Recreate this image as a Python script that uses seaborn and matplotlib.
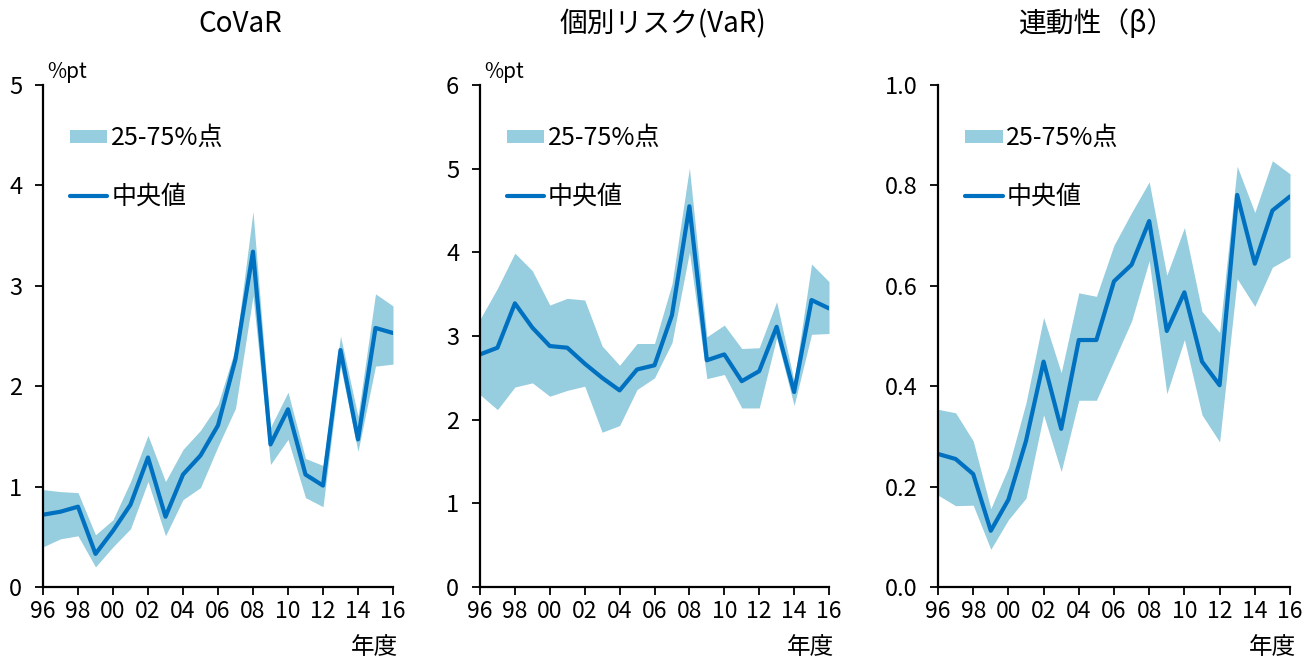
import numpy as np
import pandas as pd
import matplotlib
matplotlib.use("Agg")
import matplotlib.pyplot as plt
import seaborn as sns
from matplotlib.patches import Patch
from matplotlib.lines import Line2D

# Fiscal years 1996-2016
years = list(range(1996, 2017))
year_tick_labels = ["96", "98", "00", "02", "04", "06", "08", "10", "12", "14", "16"]

# CoVaR (%pt)
covar_median = [0.72, 0.75, 0.80, 0.33, 0.56, 0.82, 1.29, 0.70, 1.12, 1.31, 1.61,
                2.27, 3.34, 1.42, 1.77, 1.12, 1.01, 2.36, 1.47, 2.58, 2.53]
covar_q75 = [0.97, 0.95, 0.94, 0.52, 0.67, 1.05, 1.51, 1.05, 1.37, 1.56, 1.82,
             2.38, 3.74, 1.59, 1.94, 1.28, 1.21, 2.50, 1.70, 2.92, 2.80]
covar_q25 = [0.40, 0.48, 0.51, 0.20, 0.40, 0.58, 1.05, 0.51, 0.87, 0.99, 1.40,
             1.78, 2.90, 1.22, 1.47, 0.89, 0.80, 2.20, 1.35, 2.20, 2.22]

# Individual risk, VaR (%pt)
var_median = [2.78, 2.86, 3.39, 3.10, 2.88, 2.86, 2.67, 2.50, 2.35, 2.60, 2.65,
              3.25, 4.55, 2.71, 2.78, 2.46, 2.58, 3.11, 2.33, 3.43, 3.33]
var_q75 = [3.20, 3.57, 3.99, 3.78, 3.37, 3.45, 3.43, 2.88, 2.65, 2.91, 2.91,
           3.62, 5.01, 2.99, 3.13, 2.85, 2.86, 3.41, 2.46, 3.86, 3.65]
var_q25 = [2.30, 2.12, 2.39, 2.44, 2.28, 2.35, 2.40, 1.85, 1.93, 2.36, 2.50,
           2.92, 4.00, 2.49, 2.54, 2.14, 2.14, 2.98, 2.17, 3.02, 3.03]

# Co-movement (beta)
beta_median = [0.265, 0.255, 0.225, 0.112, 0.174, 0.291, 0.449, 0.315, 0.492, 0.492, 0.609,
               0.642, 0.729, 0.510, 0.587, 0.449, 0.402, 0.781, 0.644, 0.750, 0.778]
beta_q75 = [0.354, 0.347, 0.291, 0.156, 0.238, 0.367, 0.537, 0.427, 0.586, 0.579, 0.681,
            0.746, 0.807, 0.621, 0.716, 0.549, 0.507, 0.838, 0.746, 0.849, 0.823]
beta_q25 = [0.183, 0.162, 0.163, 0.075, 0.134, 0.177, 0.343, 0.230, 0.372, 0.372, 0.451,
            0.530, 0.650, 0.385, 0.493, 0.343, 0.289, 0.614, 0.559, 0.637, 0.657]

titles = ["CoVaR", "個別リスク(VaR)", "連動性（β）"]
band_label = "25-75%点"
median_label = "中央値"
unit_label = "%pt"
x_label = "年度"

sns.set_theme(style="ticks")
plt.rcParams["font.family"] = ["Noto Sans CJK JP", "DejaVu Sans"]
plt.rcParams["text.color"] = "black"

FILL = "#96CDDF"
LINE = "#0070C0"

fig = plt.figure(figsize=(13.15, 6.66), dpi=100)
W, H = 1315, 666

panels = [
    dict(left=43, right=393, med=covar_median, lo=covar_q25, hi=covar_q75,
         ymax=5, yticks=[0, 1, 2, 3, 4, 5], fmt="{:.0f}", unit=True, title_x=240),
    dict(left=480, right=829, med=var_median, lo=var_q25, hi=var_q75,
         ymax=6, yticks=[0, 1, 2, 3, 4, 5, 6], fmt="{:.0f}", unit=True, title_x=663),
    dict(left=938, right=1290, med=beta_median, lo=beta_q25, hi=beta_q75,
         ymax=1.0, yticks=[0.0, 0.2, 0.4, 0.6, 0.8, 1.0], fmt="{:.1f}", unit=False, title_x=1097),
]
top_px, bottom_px = 85, 587

for i, p in enumerate(panels):
    ax = fig.add_axes([p["left"] / W, 1 - bottom_px / H,
                       (p["right"] - p["left"]) / W, (bottom_px - top_px) / H])
    df = pd.DataFrame({"idx": np.arange(len(years)), "year": years,
                       "median": p["med"], "lo": p["lo"], "hi": p["hi"]})
    ax.fill_between(df["idx"], df["lo"], df["hi"], color=FILL, linewidth=0)
    sns.lineplot(data=df, x="idx", y="median", ax=ax, color=LINE, linewidth=3,
                 legend=False)

    ax.set_xlim(0, len(years) - 1)
    ax.set_ylim(0, p["ymax"])
    ax.set_xticks(np.arange(0, len(years), 2))
    ax.set_xticklabels(year_tick_labels, fontsize=16.5)
    ax.set_yticks(p["yticks"])
    ax.set_yticklabels([p["fmt"].format(v) for v in p["yticks"]], fontsize=17)
    ax.set_xlabel("")
    ax.set_ylabel("")
    for s in ["top", "right"]:
        ax.spines[s].set_visible(False)
    for s in ["left", "bottom"]:
        ax.spines[s].set_linewidth(1.6)
        ax.spines[s].set_color("black")
    ax.tick_params(axis="both", direction="out", length=6, width=1.3, color="black",
                   labelcolor="black")
    ax.tick_params(axis="x", pad=3)
    ax.tick_params(axis="y", pad=9)

    handles = [Patch(facecolor=FILL, edgecolor="none", label=band_label),
               Line2D([0], [0], color=LINE, linewidth=3, label=median_label)]
    ax.legend(handles=handles, loc="upper left", bbox_to_anchor=(0.077, 0.92),
              frameon=False, fontsize=18, handlelength=1.5, handleheight=0.45,
              handletextpad=0.15, labelspacing=1.3, borderpad=0, borderaxespad=0,
              labelcolor="black")

    if p["unit"]:
        fig.text((p["left"] + 4) / W, 1 - 72 / H, unit_label, fontsize=15,
                 ha="left", va="center", color="black")
    fig.text((p["right"] - 18) / W, 1 - 648 / H, x_label, fontsize=17,
             ha="center", va="center", color="black")
    fig.text(p["title_x"] / W, 1 - 24 / H, titles[i], fontsize=20,
             ha="center", va="center", color="black")

fig.savefig("out.png", dpi=100)
